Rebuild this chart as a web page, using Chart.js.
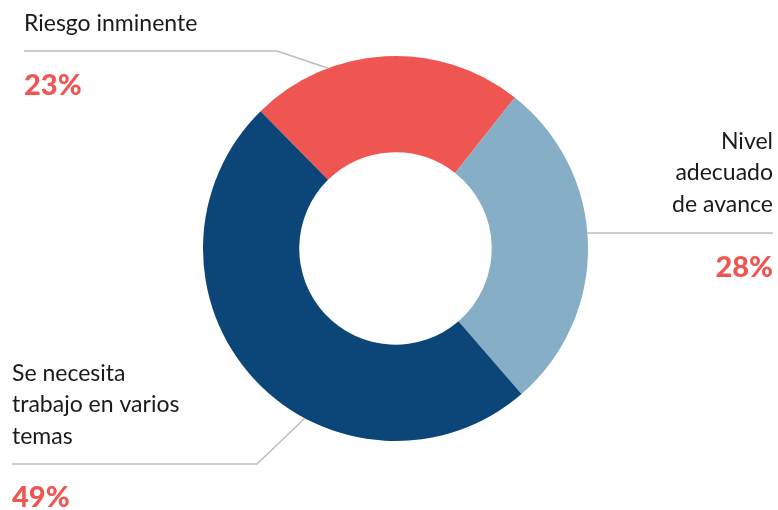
<!DOCTYPE html>
<html>
<head>
<meta charset="utf-8">
<script src="https://cdn.jsdelivr.net/npm/chart.js@4"></script>
<style>
  html, body { margin: 0; padding: 0; background: #ffffff; }
  #wrap { width: 778px; height: 510px; }
</style>
</head>
<body>
<div id="wrap"><canvas id="chart" width="778" height="510"></canvas></div>
<script>
const labels = ['Riesgo inminente', 'Nivel adecuado de avance', 'Se necesita trabajo en varios temas'];
const labelLines = [
    ['Riesgo inminente'],
    ['Nivel', 'adecuado', 'de avance'],
    ['Se necesita', 'trabajo en varios', 'temas']
];
const values = [23, 28, 49];
const colors = ['#F05651', '#86AEC6', '#0C4679'];

// label placement: text block, leader line and where it touches the ring (degrees from top)
const callouts = [
    { align: 'left', x: 24, firstBaseline: 31, pctBaseline: 95, lineY: 51, lineFrom: 24, lineTo: 277, angle: 339.5 },
    { align: 'right', x: 773, firstBaseline: 149, pctBaseline: 277, lineY: 233, lineFrom: 773, lineTo: null, angle: 94.6 },
    { align: 'left', x: 12, firstBaseline: 381, pctBaseline: 507, lineY: 464, lineFrom: 12, lineTo: 257, angle: 208.1 }
];

const calloutPlugin = {
    id: 'callouts',
    afterDraw(chart) {
        const ctx = chart.ctx;
        const arc = chart.getDatasetMeta(0).data[0];
        const cx = arc.x, cy = arc.y, r = arc.outerRadius;
        ctx.save();
        callouts.forEach((c, i) => {
            const a = c.angle * Math.PI / 180;
            const ax = cx + Math.sin(a) * r;
            const ay = cy - Math.cos(a) * r;

            ctx.strokeStyle = '#BDBDBD';
            ctx.lineWidth = 1.5;
            ctx.beginPath();
            ctx.moveTo(c.lineFrom, c.lineY);
            if (c.lineTo !== null) {
                ctx.lineTo(c.lineTo, c.lineY);
                ctx.lineTo(ax, ay);
            } else {
                ctx.lineTo(ax, c.lineY);
            }
            ctx.stroke();

            ctx.textAlign = c.align;
            ctx.textBaseline = 'alphabetic';
            ctx.fillStyle = '#1a1a1a';
            ctx.font = '23px Lato';
            labelLines[i].forEach((line, j) => {
                ctx.fillText(line, c.x, c.firstBaseline + j * 31.3);
            });

            ctx.fillStyle = colors[0];
            ctx.font = '900 29px Lato';
            ctx.fillText(values[i] + '%', c.x, c.pctBaseline);
        });
        ctx.restore();
    }
};

new Chart(document.getElementById('chart'), {
    type: 'doughnut',
    data: {
        labels: labels,
        datasets: [{
            data: values,
            backgroundColor: colors,
            borderWidth: 0,
            hoverOffset: 0
        }]
    },
    options: {
        responsive: false,
        animation: false,
        rotation: -44.5,
        cutout: '50%',
        layout: {
            padding: { left: 203, right: 190, top: 56, bottom: 69 }
        },
        plugins: {
            legend: { display: false },
            tooltip: { enabled: false }
        }
    },
    plugins: [calloutPlugin]
});
</script>
</body>
</html>
